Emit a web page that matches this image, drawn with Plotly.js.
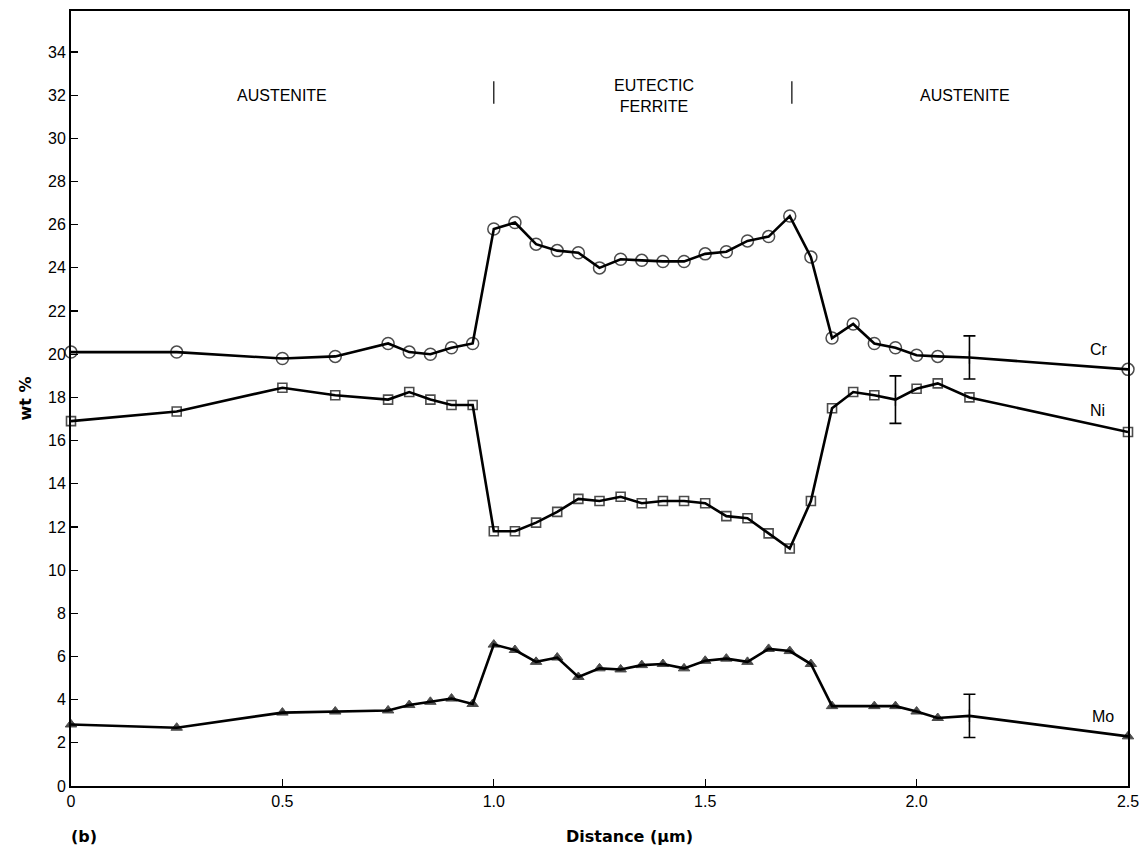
<!DOCTYPE html>
<html>
<head>
<meta charset="utf-8">
<script src="https://cdn.plot.ly/plotly-3.0.1.min.js"></script>
<style>html,body{margin:0;padding:0;background:#fff;}#chart{width:1141px;height:847px;}</style>
</head>
<body>
<div id="chart"></div>
<script>
// ---- data ----
const crX = [0, 0.25, 0.5, 0.625, 0.75, 0.8, 0.85, 0.9, 0.95, 1.0, 1.05, 1.1, 1.15, 1.2, 1.25, 1.3, 1.35, 1.4, 1.45, 1.5, 1.55, 1.6, 1.65, 1.7, 1.75, 1.8, 1.85, 1.9, 1.95, 2.0, 2.05, 2.125, 2.5];
const crY = [20.1, 20.1, 19.8, 19.9, 20.5, 20.1, 20.0, 20.3, 20.5, 25.8, 26.1, 25.1, 24.8, 24.7, 24.0, 24.4, 24.35, 24.3, 24.3, 24.65, 24.75, 25.25, 25.45, 26.4, 24.5, 20.75, 21.4, 20.5, 20.3, 19.95, 19.9, 19.85, 19.3];

const niX = [0, 0.25, 0.5, 0.625, 0.75, 0.8, 0.85, 0.9, 0.95, 1.0, 1.05, 1.1, 1.15, 1.2, 1.25, 1.3, 1.35, 1.4, 1.45, 1.5, 1.55, 1.6, 1.65, 1.7, 1.75, 1.8, 1.85, 1.9, 1.95, 2.0, 2.05, 2.125, 2.5];
const niY = [16.9, 17.35, 18.45, 18.1, 17.9, 18.25, 17.9, 17.65, 17.65, 11.8, 11.8, 12.2, 12.7, 13.3, 13.2, 13.4, 13.1, 13.2, 13.2, 13.1, 12.5, 12.4, 11.7, 11.0, 13.2, 17.5, 18.25, 18.1, 17.9, 18.4, 18.65, 18.0, 16.4];

const moX = [0, 0.25, 0.5, 0.625, 0.75, 0.8, 0.85, 0.9, 0.95, 1.0, 1.05, 1.1, 1.15, 1.2, 1.25, 1.3, 1.35, 1.4, 1.45, 1.5, 1.55, 1.6, 1.65, 1.7, 1.75, 1.8, 1.9, 1.95, 2.0, 2.05, 2.125, 2.5];
const moY = [2.85, 2.7, 3.4, 3.45, 3.5, 3.75, 3.9, 4.05, 3.8, 6.55, 6.3, 5.75, 5.95, 5.05, 5.45, 5.4, 5.6, 5.65, 5.45, 5.8, 5.9, 5.75, 6.35, 6.25, 5.65, 3.7, 3.7, 3.7, 3.45, 3.15, 3.25, 2.3];

// points drawn as error bars instead of markers
const errSeries = ['Cr', 'Ni', 'Mo'];
const errX = [2.125, 1.95, 2.125];
const errY = [19.85, 17.9, 3.25];
const errSize = [1.0, 1.1, 1.0];

// series labels
const seriesNames = ['Cr', 'Ni', 'Mo'];
const seriesLabelX = [2.405, 2.405, 2.41];
const seriesLabelY = [20.2, 17.4, 3.2];

// phase regions
const phaseLabels = ['AUSTENITE', 'EUTECTIC<br>FERRITE', 'AUSTENITE'];
const phaseLabelX = [0.5, 1.38, 2.115];
const phaseLabelY = [32.0, 31.95, 32.0];
const phaseBoundaries = [1.0, 1.705];
const phaseBoundaryY = [31.6, 32.65];

const xTickVals = [0, 0.5, 1.0, 1.5, 2.0, 2.5];
const xTickText = ['0', '0.5', '1.0', '1.5', '2.0', '2.5'];
const yTickVals = [0, 2, 4, 6, 8, 10, 12, 14, 16, 18, 20, 22, 24, 26, 28, 30, 32, 34];

// ---- build traces ----
function seriesTrace(name, xs, ys, symbol, size, lineWidthMarker) {
  const k = errSeries.indexOf(name);
  const sizes = xs.map(x => (k >= 0 && x === errX[k]) ? 0 : size);
  return {
    type: 'scatter', mode: 'lines+markers', name: name, x: xs, y: ys,
    cliponaxis: false,
    line: {color: '#000', width: 2.6},
    marker: {symbol: symbol, size: sizes, color: '#000',
             line: {color: '#000', width: lineWidthMarker}},
    hoverinfo: 'x+y+name'
  };
}

const traces = [
  seriesTrace('Cr', crX, crY, 'circle-open', 12, 1.5),
  seriesTrace('Ni', niX, niY, 'square-open', 9, 1.6),
  seriesTrace('Mo', moX, moY, 'triangle-up', 10, 1)
];

traces.push({
  type: 'scatter', mode: 'markers', x: errX, y: errY, cliponaxis: false,
  marker: {symbol: 'line-ns-open', size: 9, color: '#000', line: {color: '#000', width: 1.3}},
  error_y: {type: 'data', array: errSize, visible: true, color: '#000', thickness: 1.6, width: 6},
  hoverinfo: 'x+y'
});

// ---- annotations / shapes ----
const annotations = [];
seriesNames.forEach((n, i) => annotations.push({
  x: seriesLabelX[i], y: seriesLabelY[i], xref: 'x', yref: 'y', text: n, showarrow: false,
  xanchor: 'left', yanchor: 'middle', font: {family: 'Liberation Sans, Arial, sans-serif', size: 16, color: '#000'}
}));
phaseLabels.forEach((t, i) => annotations.push({
  x: phaseLabelX[i], y: phaseLabelY[i], xref: 'x', yref: 'y', text: t, showarrow: false,
  xanchor: 'center', yanchor: 'middle', align: 'center',
  font: {family: 'Liberation Sans, Arial, sans-serif', size: 16, color: '#000'}
}));
annotations.push({
  x: 0.5, y: 0, xref: 'paper', yref: 'paper', yshift: -62, xshift: 30, text: '<b>Distance (µm)</b>', showarrow: false,
  xanchor: 'center', yanchor: 'bottom', font: {family: 'DejaVu Sans, sans-serif', size: 16, color: '#000'}
});
annotations.push({
  x: 0, y: 0, xref: 'paper', yref: 'paper', yshift: -62, xshift: -2, text: '<b>(b)</b>', showarrow: false,
  xanchor: 'left', yanchor: 'bottom', font: {family: 'DejaVu Sans, sans-serif', size: 16, color: '#000'}
});

const shapes = phaseBoundaries.map(b => ({
  type: 'line', xref: 'x', yref: 'y', x0: b, x1: b, y0: phaseBoundaryY[0], y1: phaseBoundaryY[1],
  line: {color: '#000', width: 1.2}
}));

const layout = {
  width: 1141, height: 847,
  margin: {l: 71, r: 13, t: 11, b: 61},
  paper_bgcolor: '#fff', plot_bgcolor: '#fff',
  showlegend: false,
  font: {family: 'Liberation Sans, Arial, sans-serif', size: 16, color: '#000'},
  xaxis: {
    range: [0, 2.5], tickvals: xTickVals, ticktext: xTickText,
    ticks: 'inside', ticklen: 7, tickwidth: 1.2, tickcolor: '#000',
    showline: true, linecolor: '#000', linewidth: 2, mirror: true,
    showgrid: false, zeroline: false, fixedrange: true,
    tickfont: {size: 16}
  },
  yaxis: {
    range: [0, 35.9], tickvals: yTickVals,
    ticks: 'inside', ticklen: 7, tickwidth: 1.2, tickcolor: '#000',
    showline: true, linecolor: '#000', linewidth: 2, mirror: true,
    showgrid: false, zeroline: false, fixedrange: true,
    tickfont: {size: 16},
    title: {text: '<b>wt %</b>', standoff: 12, font: {family: 'DejaVu Sans, sans-serif', size: 16}}
  },
  annotations: annotations,
  shapes: shapes
};

Plotly.newPlot('chart', traces, layout, {displayModeBar: false, staticPlot: true});
</script>
</body>
</html>
